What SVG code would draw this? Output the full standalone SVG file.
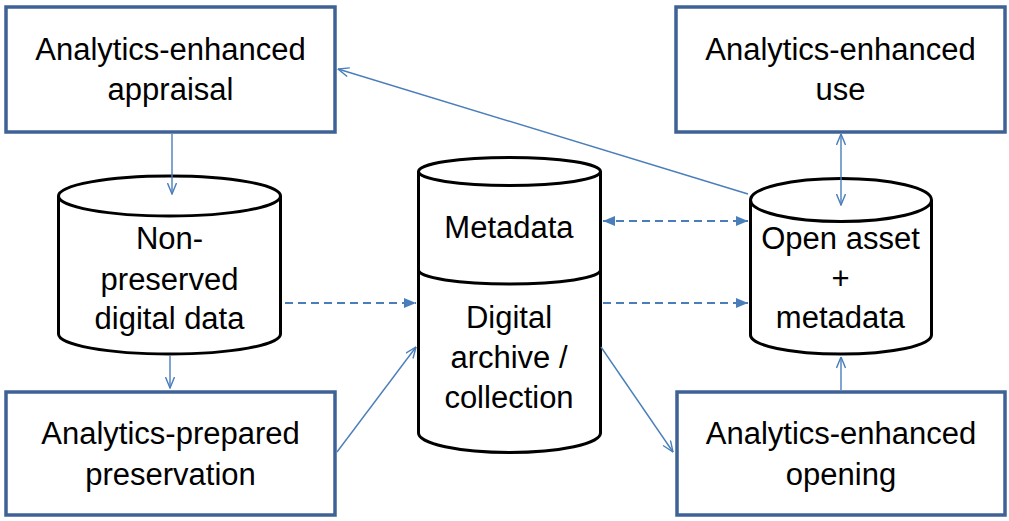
<svg xmlns="http://www.w3.org/2000/svg" width="1009" height="521" viewBox="0 0 1009 521">
  <style>
    .box { fill: #ffffff; stroke: #3f6296; stroke-width: 3.5; }
    .cyl { fill: #ffffff; stroke: #000000; stroke-width: 3; }
    .cyl-line { fill: none; stroke: #000000; stroke-width: 3; }
    .label { font-family: "Liberation Sans", Arial, sans-serif; font-size: 31px; fill: #000000; text-anchor: middle; }
    .conn { fill: none; stroke: #4a7ebb; stroke-width: 1.4; }
    .dash { fill: none; stroke: #4a7ebb; stroke-width: 2; stroke-dasharray: 8 5; }
  </style>
  <defs>
    <marker id="open" viewBox="0 0 12 10" refX="11.5" refY="5" markerWidth="12" markerHeight="10" markerUnits="userSpaceOnUse" orient="auto-start-reverse">
      <path d="M0.5,0.5 L11.5,5 L0.5,9.5" fill="none" stroke="#4a7ebb" stroke-width="1.4"/>
    </marker>
    <marker id="solid" viewBox="0 0 12 10" refX="12" refY="5" markerWidth="12" markerHeight="10" markerUnits="userSpaceOnUse" orient="auto-start-reverse">
      <path d="M0,0 L12,5 L0,10 Z" fill="#4a7ebb"/>
    </marker>
  </defs>

  <!-- process boxes -->
  <g id="appraisal">
    <rect class="box" x="6" y="7" width="329" height="125"/>
    <text class="label" x="170.5" y="60">Analytics-enhanced</text>
    <text class="label" x="170.5" y="100">appraisal</text>
  </g>
  <g id="use">
    <rect class="box" x="676" y="7" width="329" height="125"/>
    <text class="label" x="840.5" y="60">Analytics-enhanced</text>
    <text class="label" x="840.5" y="100">use</text>
  </g>
  <g id="preservation">
    <rect class="box" x="6" y="392" width="329" height="123"/>
    <text class="label" x="170.5" y="444">Analytics-prepared</text>
    <text class="label" x="170.5" y="485">preservation</text>
  </g>
  <g id="opening">
    <rect class="box" x="677" y="392" width="328" height="123"/>
    <text class="label" x="841" y="444">Analytics-enhanced</text>
    <text class="label" x="841" y="485">opening</text>
  </g>

  <!-- data stores -->
  <g id="non-preserved">
    <path class="cyl" d="M58.5,196 A111,20 0 0,1 280.5,196 L280.5,334 A111,20 0 0,1 58.5,334 Z"/>
    <path class="cyl-line" d="M58.5,196 A111,20 0 0,0 280.5,196"/>
    <text class="label" x="169.5" y="249">Non-</text>
    <text class="label" x="169.5" y="290">preserved</text>
    <text class="label" x="169.5" y="329">digital data</text>
  </g>
  <g id="archive">
    <path class="cyl" d="M418.5,270 L418.5,433 A91,19.5 0 0,0 600.5,433 L600.5,270 Z"/>
    <path class="cyl" d="M418.5,171.5 A91,14 0 0,1 600.5,171.5 L600.5,270 A91,14 0 0,1 418.5,270 Z"/>
    <path class="cyl-line" d="M418.5,171.5 A91,14 0 0,0 600.5,171.5"/>
    <text class="label" x="509" y="238">Metadata</text>
    <text class="label" x="509" y="328">Digital</text>
    <text class="label" x="509" y="368">archive /</text>
    <text class="label" x="509" y="408">collection</text>
  </g>
  <g id="open-asset">
    <path class="cyl" d="M750.5,200 A90.5,21.5 0 0,1 931.5,200 L931.5,335 A90.5,19 0 0,1 750.5,335 Z"/>
    <path class="cyl-line" d="M750.5,200 A90.5,21.5 0 0,0 931.5,200"/>
    <text class="label" x="840.5" y="249">Open asset</text>
    <text class="label" x="840.5" y="289">+</text>
    <text class="label" x="840.5" y="328">metadata</text>
  </g>

  <!-- connectors -->
  <g id="connectors">
    <line class="conn" x1="172" y1="134" x2="172" y2="194" marker-end="url(#open)"/>
    <line class="conn" x1="170" y1="356" x2="170" y2="388" marker-end="url(#open)"/>
    <line class="dash" x1="285" y1="303" x2="416" y2="303" marker-end="url(#solid)"/>
    <line class="dash" x1="603" y1="221" x2="748" y2="221" marker-start="url(#solid)" marker-end="url(#solid)"/>
    <line class="dash" x1="603" y1="303" x2="748" y2="303" marker-end="url(#solid)"/>
    <line class="conn" x1="748" y1="194" x2="338" y2="69" marker-end="url(#open)"/>
    <line class="conn" x1="841" y1="134" x2="841" y2="205" marker-start="url(#open)" marker-end="url(#open)"/>
    <line class="conn" x1="841" y1="390" x2="841" y2="357" marker-end="url(#open)"/>
    <line class="conn" x1="337" y1="452" x2="416" y2="347" marker-end="url(#open)"/>
    <line class="conn" x1="601" y1="347" x2="673" y2="452" marker-end="url(#open)"/>
  </g>
</svg>
